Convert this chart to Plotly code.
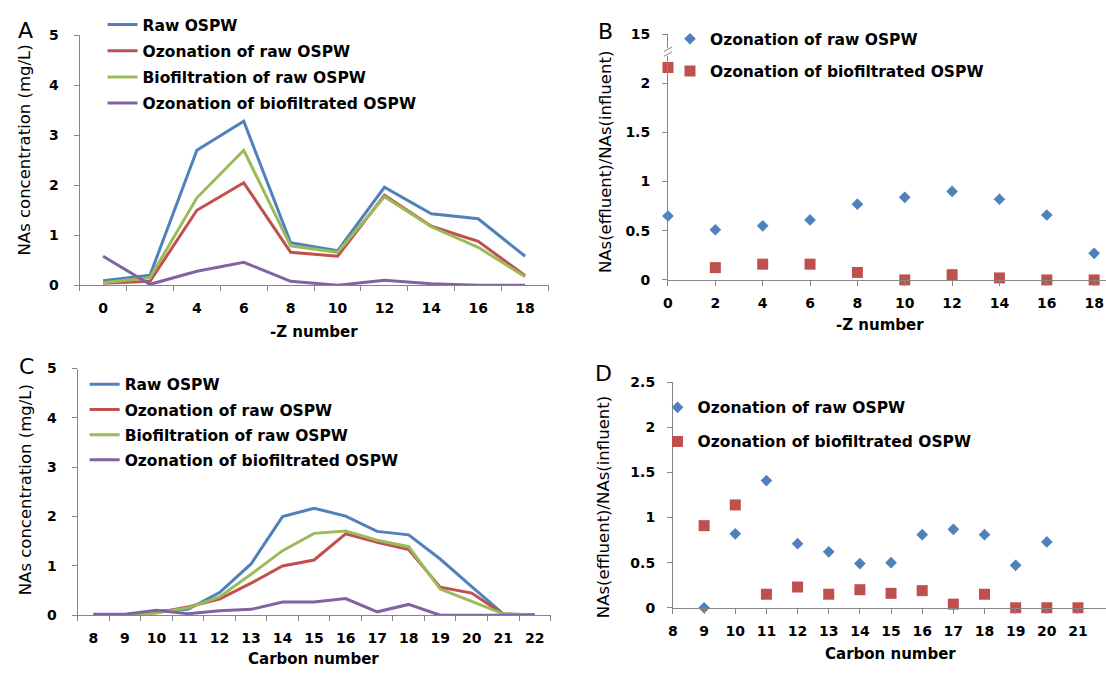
import plotly.graph_objects as go

# ---------------- data ----------------
z_numbers = [0, 2, 4, 6, 8, 10, 12, 14, 16, 18]
a_raw = [0.09, 0.20, 2.70, 3.28, 0.85, 0.69, 1.96, 1.43, 1.33, 0.58]
a_ozon = [0.04, 0.08, 1.50, 2.05, 0.66, 0.58, 1.80, 1.18, 0.88, 0.19]
a_bio = [0.05, 0.15, 1.75, 2.70, 0.79, 0.66, 1.77, 1.17, 0.76, 0.17]
a_ozbio = [0.58, 0.02, 0.28, 0.46, 0.08, 0.00, 0.10, 0.03, 0.00, 0.00]

b_ozon_raw = [0.65, 0.51, 0.55, 0.61, 0.77, 0.84, 0.90, 0.82, 0.66, 0.27]
b_ozon_bio = [2.16, 0.125, 0.16, 0.16, 0.076, 0.0, 0.053, 0.02, 0.0, 0.0]
b_tickvals = [0, 0.5, 1, 1.5, 2, 2.5]
b_ticktext = ["0", "0.5", "1", "1.5", "2", "15"]

carbon = [8, 9, 10, 11, 12, 13, 14, 15, 16, 17, 18, 19, 20, 21, 22]
c_raw = [0.01, 0.01, 0.08, 0.12, 0.46, 1.04, 2.00, 2.17, 2.01, 1.70, 1.63, 1.14, 0.58, 0.03, 0.01]
c_ozon = [0.0, 0.0, 0.05, 0.17, 0.33, 0.65, 1.00, 1.12, 1.65, 1.48, 1.33, 0.57, 0.45, 0.02, 0.0]
c_bio = [0.0, 0.0, 0.05, 0.15, 0.37, 0.83, 1.31, 1.66, 1.71, 1.52, 1.39, 0.53, 0.28, 0.03, 0.0]
c_ozbio = [0.02, 0.02, 0.10, 0.03, 0.09, 0.12, 0.27, 0.27, 0.34, 0.07, 0.22, 0.0, 0.0, 0.0, 0.0]

d_ozon_raw = [None, 0.0, 0.82, 1.41, 0.71, 0.62, 0.49, 0.50, 0.81, 0.87, 0.81, 0.47, 0.73, None, None]
d_ozon_bio = [None, 0.91, 1.14, 0.15, 0.23, 0.15, 0.20, 0.16, 0.19, 0.04, 0.15, 0.0, 0.0, 0.0, 0.0]

conc_ticks = [0, 1, 2, 3, 4, 5]
d_ticks = [0, 0.5, 1, 1.5, 2, 2.5]

line_names = ["Raw OSPW", "Ozonation of raw OSPW", "Biofiltration of raw OSPW",
              "Ozonation of biofiltrated OSPW"]
ratio_names = ["Ozonation of raw OSPW", "Ozonation of biofiltrated OSPW"]

# ---------------- style ----------------
W, H = 1106, 676
BLUE, RED, GREEN, PURPLE = "#4F81BD", "#C0504D", "#9BBB59", "#8064A2"
AX = "#868686"
FONT = "DejaVu Sans"


def px(x):
    return x / W


def py(y):
    return 1 - y / H


def bold(vals):
    return ["<b>%s</b>" % (("%g" % v) if not isinstance(v, str) else v) for v in vals]


fig = go.Figure()

line_colors = [BLUE, RED, GREEN, PURPLE]
for i, (vals, col) in enumerate(zip([a_raw, a_ozon, a_bio, a_ozbio], line_colors)):
    fig.add_trace(go.Scatter(x=z_numbers, y=vals, mode="lines", name=line_names[i],
                             line=dict(color=col, width=3), xaxis="x", yaxis="y",
                             legend="legend", legendgroup="a%d" % i, cliponaxis=False))
for i, (vals, col) in enumerate(zip([c_raw, c_ozon, c_bio, c_ozbio], line_colors)):
    fig.add_trace(go.Scatter(x=carbon, y=vals, mode="lines", name=line_names[i],
                             line=dict(color=col, width=3), xaxis="x3", yaxis="y3",
                             legend="legend3", legendgroup="c%d" % i, cliponaxis=False))

fig.add_trace(go.Scatter(x=z_numbers, y=b_ozon_raw, mode="markers", name=ratio_names[0],
                         marker=dict(symbol="diamond", size=9, color=BLUE),
                         xaxis="x2", yaxis="y2", legend="legend2", legendgroup="b0",
                         cliponaxis=False))
fig.add_trace(go.Scatter(x=z_numbers, y=b_ozon_bio, mode="markers", name=ratio_names[1],
                         marker=dict(symbol="square", size=11, color=RED),
                         xaxis="x2", yaxis="y2", legend="legend2", legendgroup="b1",
                         cliponaxis=False))
fig.add_trace(go.Scatter(x=carbon, y=d_ozon_raw, mode="markers", name=ratio_names[0],
                         marker=dict(symbol="diamond", size=9, color=BLUE),
                         xaxis="x4", yaxis="y4", legend="legend4", legendgroup="d0",
                         cliponaxis=False))
fig.add_trace(go.Scatter(x=carbon, y=d_ozon_bio, mode="markers", name=ratio_names[1],
                         marker=dict(symbol="square", size=11, color=RED),
                         xaxis="x4", yaxis="y4", legend="legend4", legendgroup="d1",
                         cliponaxis=False))

tickfont = dict(family=FONT, size=14, color="black")
axbase = dict(showline=True, linecolor=AX, linewidth=1, showgrid=False, zeroline=False,
              tickfont=tickfont, fixedrange=True, tickmode="array")
ytick = dict(ticks="outside", ticklen=5, tickcolor=AX, tickwidth=1)

a_bounds = [z_numbers[0] - 1] + [z + 1 for z in z_numbers]
c_bounds = [carbon[0] - 0.5] + [c + 0.5 for c in carbon]

layout = dict(
    width=W, height=H, margin=dict(l=0, r=0, t=0, b=0),
    paper_bgcolor="white", plot_bgcolor="rgba(0,0,0,0)",
    font=dict(family=FONT, color="black"),
    # Panel A
    xaxis=dict(axbase, domain=[px(75), px(546)], range=[-1, 19], anchor="y",
               tickvals=z_numbers, ticktext=bold(z_numbers), ticks="", ticklabelstandoff=10,
               minor=dict(tickmode="array", tickvals=a_bounds, ticks="outside",
                          ticklen=5, tickcolor=AX, showgrid=False)),
    yaxis=dict(axbase, **ytick, domain=[py(284), py(28)], range=[0, 5], anchor="x",
               tickvals=conc_ticks, ticktext=bold(conc_ticks), ticklabelstandoff=12),
    # Panel B
    xaxis2=dict(axbase, domain=[px(666), 1.0], range=[0, 18.5], anchor="y2",
                tickvals=z_numbers, ticktext=bold(z_numbers), ticks="outside", ticklen=5,
                tickcolor=AX, ticklabelstandoff=5),
    yaxis2=dict(axbase, **ytick, domain=[py(278.5), py(26.7)], range=[0, 2.5], anchor="x2",
                tickvals=b_tickvals, ticktext=bold(b_ticktext), ticklabelstandoff=9),
    # Panel C
    xaxis3=dict(axbase, domain=[px(73), px(548)], range=[7.5, 22.5], anchor="y3",
                tickvals=carbon, ticktext=bold(carbon), ticks="", ticklabelstandoff=10,
                minor=dict(tickmode="array", tickvals=c_bounds, ticks="outside",
                           ticklen=5, tickcolor=AX, showgrid=False)),
    yaxis3=dict(axbase, **ytick, domain=[py(622), py(369.3)], range=[0, 5], anchor="x3",
                tickvals=conc_ticks, ticktext=bold(conc_ticks), ticklabelstandoff=12),
    # Panel D
    xaxis4=dict(axbase, domain=[px(671), 1.0], range=[8, 21.9], anchor="y4",
                tickvals=carbon, ticktext=bold(carbon), ticks="outside", ticklen=5,
                tickcolor=AX, ticklabelstandoff=5),
    yaxis4=dict(axbase, **ytick, domain=[py(614.3), py(383.3)], range=[0, 2.5], anchor="x4",
                tickvals=d_ticks, ticktext=bold(d_ticks), ticklabelstandoff=9),
)

legfont = dict(family=FONT, size=15.5, color="black", weight="bold")
layout["legend"] = dict(x=px(98), y=py(0), xanchor="left", yanchor="top",
                        font=legfont, bgcolor="rgba(0,0,0,0)", tracegroupgap=3)
layout["legend3"] = dict(x=px(80), y=py(368.5), xanchor="left", yanchor="top",
                         font=legfont, bgcolor="rgba(0,0,0,0)", tracegroupgap=2)
layout["legend2"] = dict(x=px(668), y=py(14.5), xanchor="left", yanchor="top",
                         font=legfont, bgcolor="rgba(0,0,0,0)", tracegroupgap=9)
layout["legend4"] = dict(x=px(655.5), y=py(392), xanchor="left", yanchor="top",
                         font=legfont, bgcolor="rgba(0,0,0,0)", tracegroupgap=11)
fig.update_layout(**layout)

# axis titles and panel letters
ytitle_font = dict(family=FONT, size=16.5, color="black")
xtitle_font = dict(family=FONT, size=15, color="black", weight="bold")
letter_font = dict(family=FONT, size=22, color="black")
annots = [
    ("A", 21, 23, letter_font, 0), ("B", 603, 24, letter_font, 0),
    ("C", 22, 367, letter_font, 0), ("D", 601, 374, letter_font, 0),
    ("NAs concentration (mg/L)", 20, 145, ytitle_font, -90),
    ("NAs(effluent)/NAs(influent)", 604, 157.5, ytitle_font, -90),
    ("NAs concentration (mg/L)", 20, 493, ytitle_font, -90),
    ("NAs(effluent)/NAs(influent)", 602, 511, ytitle_font, -90),
    ("<b>-Z number</b>", 310, 332, xtitle_font, 0),
    ("<b>-Z number</b>", 879, 325, xtitle_font, 0),
    ("<b>Carbon number</b>", 310, 667, xtitle_font, 0),
    ("<b>Carbon number</b>", 890, 662, xtitle_font, 0),
]
for text, x, y, f, ang in annots:
    fig.add_annotation(text=text, x=px(x), y=py(y), xref="paper", yref="paper",
                       showarrow=False, font=f, textangle=ang,
                       xanchor="center", yanchor="middle")

# axis break on panel B
fig.add_shape(type="rect", xref="paper", yref="paper", x0=px(660), x1=px(672),
              y0=py(49), y1=py(41), fillcolor="white", line=dict(width=0))
for y0 in (44.5, 49.5):
    fig.add_shape(type="line", xref="paper", yref="paper", x0=px(662), x1=px(670),
                  y0=py(y0), y1=py(y0 - 4.5), line=dict(color=AX, width=1))

fig.write_html("out.html")
